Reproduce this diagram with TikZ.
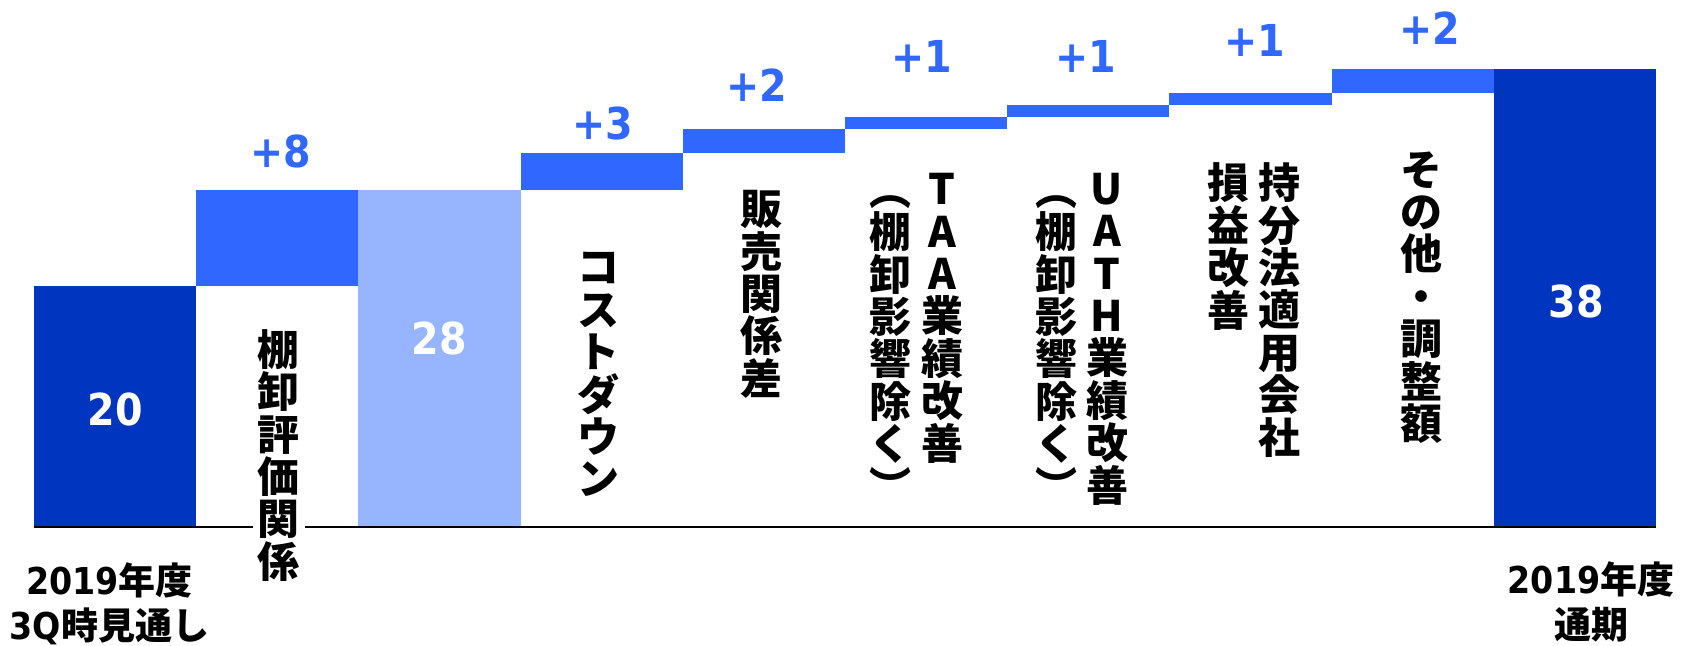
\documentclass[tikz,border=0pt]{standalone}
\usepackage{fontspec}
\newfontfamily\jpfont{Noto Sans CJK JP}
\newfontfamily\numfont[FakeStretch=0.9]{DejaVu Sans}
\definecolor{darkblue}{HTML}{0036BF}
\definecolor{midblue}{HTML}{3068FF}
\definecolor{lightblue}{HTML}{96B4FF}

\begin{document}
\begin{tikzpicture}
  [x=0.5pt,y=-0.5pt,every node/.style={inner sep=0pt},
   delta/.style={font=\numfont\bfseries\fontsize{22}{24}\selectfont,text=midblue},
   total/.style={font=\numfont\bfseries\fontsize{22}{24}\selectfont,text=white},
   tate/.style={font=\jpfont\bfseries\fontsize{21}{21.2}\selectfont,align=center,anchor=north},
   period/.style={font=\jpfont\bfseries\fontsize{18.5}{22.5}\selectfont,align=center}]
  \useasboundingbox (0,0) rectangle (1692,645);

  % bars: slot/from/to/colour
  \foreach \i/\lo/\hi/\col in {0/0/20/darkblue,1/20/28/midblue,2/0/28/lightblue,
      3/28/31/midblue,4/31/33/midblue,5/33/34/midblue,6/34/35/midblue,
      7/35/36/midblue,8/36/38/midblue,9/0/38/darkblue}
    \fill[\col] ({34+162.2*\i},{527-12.05*\lo}) rectangle ({196.2+162.2*\i},{527-12.05*\hi});

  \coordinate (axisL) at (34,527);
  \coordinate (axisR) at (1656,527);
  \draw[line width=1pt] (axisL) -- (axisR);

  \node[total] (v20) at (115,409)   {20};
  \node[total] (v28) at (439.5,338) {28};
  \node[total] (v38) at (1576,301.5) {38};

  \node[delta] (d8)    at (281,151.7) {+8};
  \node[delta] (dcost) at (603,123)   {+3};
  \node[delta] (dsale) at (757,85)    {+2};
  \node[delta] (dtaa)  at (922,56)    {+1};
  \node[delta] (duath) at (1086,56)   {+1};
  \node[delta] (deq)   at (1255,40)   {+1};
  \node[delta] (dother) at (1430,28)  {+2};

  \node[tate,fill=white,inner xsep=2.5pt] (tana) at (278.5,329) {棚\\卸\\評\\価\\関\\係};
  \node[tate] (cost)  at (598,252)  {コ\\ス\\ト\\ダ\\ウ\\ン};
  \node[tate] (sale)  at (761,190)  {販\\売\\関\\係\\差};
  \node[tate] (taa)   at (942,173)  {T\\A\\A\\業\\績\\改\\善};
  \node[tate] (taax)  at (890,195)  {︵\\棚\\卸\\影\\響\\除\\く\\︶};
  \node[tate] (uath)  at (1107,172.5) {U\\A\\T\\H\\業\\績\\改\\善};
  \node[tate] (uathx) at (1056,195) {︵\\棚\\卸\\影\\響\\除\\く\\︶};
  \node[tate] (eq)    at (1279,162.5) {持\\分\\法\\適\\用\\会\\社};
  \node[tate] (eqx)   at (1228,162.5) {損\\益\\改\\善};
  \node[tate] (other) at (1421,151) {そ\\の\\他\\・\\調\\整\\額};

  \node[period] (start) at (109.5,603.5) {{\numfont 2019}年度\\{\numfont 3Q}時見通し};
  \node[period] (final) at (1591,602)    {{\numfont 2019}年度\\通期};
\end{tikzpicture}
\end{document}
